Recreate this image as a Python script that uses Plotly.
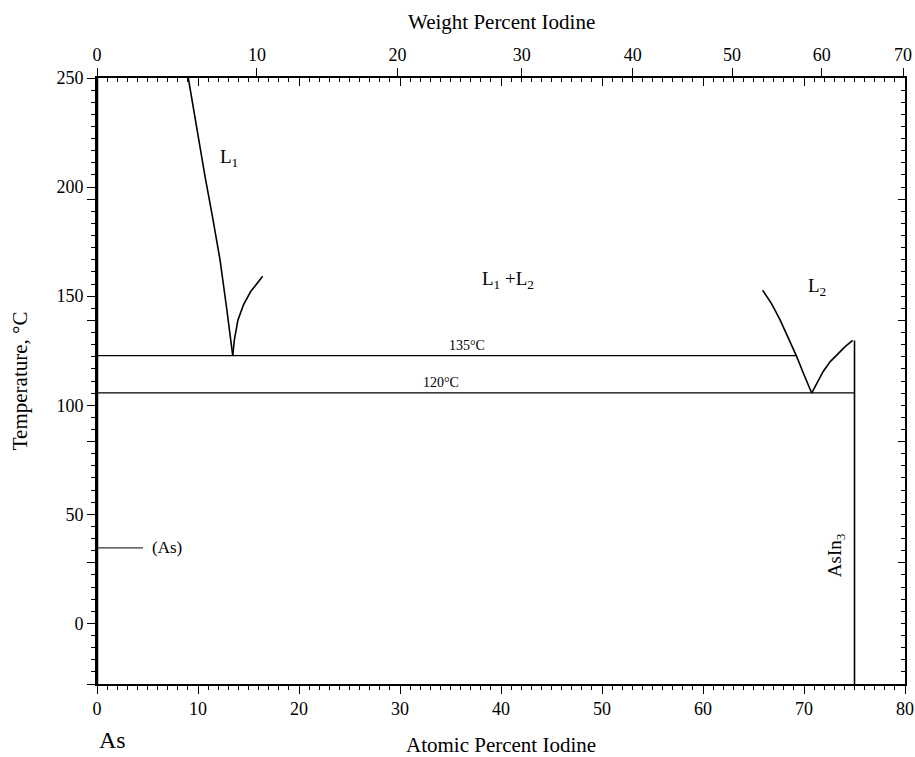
import plotly.graph_objects as go

# ---------------- data (atomic percent iodine, temperature °C as drawn) ----------------
liq1_at = [9.04, 9.85, 10.69, 11.45, 12.18, 12.85, 13.44]
liq1_T = [250, 227, 205, 186, 166.7, 144, 122.7]

eut1_at = [13.44, 13.6, 13.95, 14.5, 15.2, 15.8, 16.4]
eut1_T = [122.7, 130, 139, 146, 152, 155.8, 159.1]

liq2_at = [65.9, 66.8, 67.62, 68.45, 69.27, 70.0, 70.76]
liq2_T = [152.7, 146.5, 139.2, 130.8, 122.4, 114, 105.6]

liq3_at = [70.76, 71.3, 71.9, 72.6, 73.4, 74.1, 74.82]
liq3_T = [105.6, 110.5, 115.5, 120, 124, 127, 129.7]

compound_at = [75, 75]
compound_T = [-27.78, 129.7]

mono_at = [0, 69.27]          # 135 °C monotectic
mono_T = [122.7, 122.7]
eut_at = [0, 75]              # 120 °C eutectic
eut_T = [105.7, 105.7]

as_at = [0, 4.55]             # (As) marker
as_T = [34.6, 34.6]
as_edge_at = [0, 0]
as_edge_T = [-27.78, 250]

x_range = [0, 80]
y_range = [-27.78, 250]
at_ticks = [0, 10, 20, 30, 40, 50, 60, 70, 80]
T_ticks = [0, 50, 100, 150, 200, 250]
wt_labels = [0, 10, 20, 30, 40, 50, 60, 70]

# atomic weights used by the top scale (as drawn in the original)
A_a = 74.9216
A_b = 126.904


def wt_to_at(w):
    if w == 0:
        return 0.0
    return 100.0 * (w / A_a) / (w / A_a + (100.0 - w) / A_b)


wt_pos = [wt_to_at(w) for w in wt_labels]

FONT = "Liberation Serif"
LW = 1.6

fig = go.Figure()


def line(xs, ys, width=LW, xa="x", ya="y"):
    fig.add_trace(go.Scatter(x=xs, y=ys, mode="lines", xaxis=xa, yaxis=ya,
                             line=dict(color="black", width=width),
                             hoverinfo="skip", showlegend=False))


line(liq1_at, liq1_T)
line(eut1_at, eut1_T, xa="x", ya="y2")
line(liq2_at, liq2_T, xa="x2", ya="y")
line(liq3_at, liq3_T, xa="x3", ya="y")
line(compound_at, compound_T, xa="x", ya="y3")
line(mono_at, mono_T, 1.3)
line(eut_at, eut_T, 1.3)
line(as_at, as_T, 1.0)
line(as_edge_at, as_edge_T, 2.5)

# Fahrenheit-style minor tick grid used on the temperature axis
step = 50.0 / 9.0
minor_T = [250 - k * step for k in range(0, 51)]
long_T = [250 - k * step for k in range(10, 51, 10)]

fig.update_layout(
    width=915, height=757,
    margin=dict(l=97, r=10, t=78, b=73),
    paper_bgcolor="white", plot_bgcolor="white",
    font=dict(family=FONT, color="black", size=18),
    showlegend=False,
    xaxis=dict(range=x_range, tickvals=at_ticks, ticks="outside", ticklen=8,
               tickwidth=1.2, tickcolor="black", showgrid=False, zeroline=False,
               showline=True, linecolor="black", linewidth=1.6, automargin=False,
               tickfont=dict(size=18, family=FONT),
               minor=dict(dtick=1, tick0=0, ticks="outside", ticklen=4,
                          tickcolor="black", tickwidth=1, showgrid=False)),
    xaxis2=dict(range=x_range, overlaying="x", anchor="y", side="top",
                tickvals=wt_pos, ticktext=[str(w) for w in wt_labels],
                ticks="outside", ticklen=8, tickwidth=1.2, tickcolor="black",
                showgrid=False, zeroline=False, showline=True, automargin=False,
                linecolor="black", linewidth=1.6,
                tickfont=dict(size=18, family=FONT)),
    xaxis3=dict(range=x_range, overlaying="x", anchor="y", side="top",
                tickvals=at_ticks, showticklabels=False, automargin=False,
                ticks="inside", ticklen=8, tickwidth=1.2, tickcolor="black",
                showgrid=False, zeroline=False, showline=False,
                minor=dict(dtick=1, tick0=0, ticks="inside", ticklen=4,
                           tickcolor="black", tickwidth=1, showgrid=False)),
    yaxis=dict(range=y_range, tickvals=T_ticks, ticks="outside", ticklen=8,
               tickwidth=1.2, tickcolor="black", showgrid=False, zeroline=False,
               showline=True, linecolor="black", linewidth=1.6, automargin=False,
               tickfont=dict(size=18, family=FONT),
               minor=dict(tickvals=minor_T, ticks="outside", ticklen=4,
                          tickcolor="black", tickwidth=1, showgrid=False)),
    yaxis2=dict(range=y_range, overlaying="y", anchor="x", side="left",
                tickvals=long_T, showticklabels=False, ticks="outside",
                ticklen=9, tickwidth=1.2, tickcolor="black", showgrid=False,
                zeroline=False, showline=False, automargin=False),
    yaxis3=dict(range=y_range, overlaying="y", anchor="x", side="right",
                tickvals=long_T, showticklabels=False, ticks="inside",
                ticklen=7, tickwidth=1.2, tickcolor="black", showgrid=False,
                zeroline=False, showline=True, linecolor="black", linewidth=1.6,
                automargin=False,
                minor=dict(tickvals=minor_T, ticks="inside", ticklen=4,
                           tickcolor="black", tickwidth=1, showgrid=False)),
)

ann = []
ann.append(dict(text="Weight Percent Iodine", xref="paper", yref="paper",
                x=0.5, y=1.093, showarrow=False, font=dict(size=21),
                xanchor="center", yanchor="middle"))
ann.append(dict(text="Atomic Percent Iodine", xref="paper", yref="paper",
                x=0.5, y=-0.101, showarrow=False, font=dict(size=21),
                xanchor="center", yanchor="middle"))
ann.append(dict(text="As", xref="paper", yref="paper",
                x=0.0, y=-0.093, showarrow=False, font=dict(size=24),
                xanchor="left", yanchor="middle"))
ann.append(dict(text="Temperature, °C", xref="paper", yref="paper",
                x=-0.095, y=0.5, showarrow=False, font=dict(size=21),
                textangle=-90, xanchor="center", yanchor="middle"))


def label(text, x, y, size=19, angle=0, xanchor="center"):
    ann.append(dict(text=text, xref="x", yref="y", x=x, y=y, showarrow=False,
                    font=dict(size=size), textangle=angle,
                    xanchor=xanchor, yanchor="middle"))


label("L<sub>1</sub>", 13.1, 213.5)
label("L<sub>1</sub> +L<sub>2</sub>", 40.7, 157.6)
label("L<sub>2</sub>", 71.3, 154.4)
label("135°C", 36.6, 127.3, size=14)
label("120°C", 34.1, 110.3, size=14)
label("(As)", 5.25, 34.6, size=17, xanchor="left")
label("AsIn<sub>3</sub>", 73.2, 31.4, size=19, angle=-90)

fig.update_layout(annotations=ann)
fig.write_html(
    "out.html",
    config={"displayModeBar": False},
    post_script="document.body.style.margin='0';"
                "document.body.style.overflow='hidden';",
)
